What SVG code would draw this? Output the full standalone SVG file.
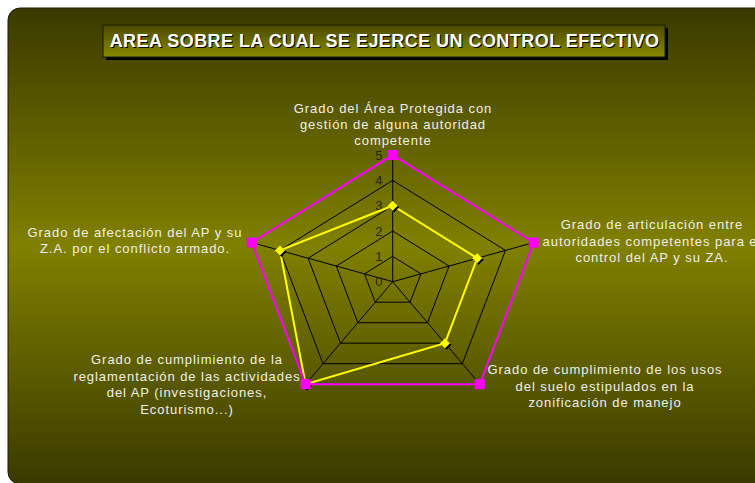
<svg xmlns="http://www.w3.org/2000/svg" xmlns:xlink="http://www.w3.org/1999/xlink" width="755" height="483" viewBox="0 0 755 483">
<style>
.lbl{font-family:"Liberation Sans",Arial,sans-serif;font-size:13px;letter-spacing:0.95px;fill:#f0f0e6;text-anchor:middle}
.tick{font-family:"Liberation Sans",Arial,sans-serif;font-size:13px;fill:#262600;text-anchor:end}
.grid{fill:none;stroke:#000;stroke-width:1}
.title{font-family:"Liberation Sans",Arial,sans-serif;font-size:18px;font-weight:bold;letter-spacing:0.45px;text-anchor:middle}
</style>
<defs>
<linearGradient id="bg" x1="0" y1="0" x2="0" y2="1">
<stop offset="0" stop-color="#3a3a00"/>
<stop offset="0.5" stop-color="#808000"/>
<stop offset="1" stop-color="#3a3a00"/>
</linearGradient>
<linearGradient id="tb" x1="0" y1="0" x2="0" y2="1">
<stop offset="0" stop-color="#4a4a00"/>
<stop offset="1" stop-color="#8a8a00"/>
</linearGradient>
<g id="dia"><polygon points="1.5,-3.5 6.5,1.5 1.5,6.5 -3.5,1.5" fill="#000"/><polygon points="0,-5 5,0 0,5 -5,0" fill="#ffff00"/></g>
<rect id="sq" x="-5" y="-5" width="10" height="10" fill="#ff00ff"/>
</defs>
<rect x="0" y="0" width="755" height="483" fill="#fff"/>
<rect x="8" y="8" width="770" height="476" rx="12" ry="12" fill="url(#bg)" stroke="#1a1a00" stroke-width="1"/>

<g id="title">
<rect x="106" y="28" width="562" height="32" fill="#000"/>
<rect x="103" y="25" width="562" height="32" fill="url(#tb)" stroke="#1a1a00" stroke-width="1"/>
<text class="title" x="385.5" y="48" fill="#000">AREA SOBRE LA CUAL SE EJERCE UN CONTROL EFECTIVO</text>
<text class="title" x="384.5" y="47" fill="#fff">AREA SOBRE LA CUAL SE EJERCE UN CONTROL EFECTIVO</text>
</g>

<g id="grid">
<polygon class="grid" points="392.7,256.37 420.89,273.87 410.12,302.19 375.28,302.19 364.51,273.87"/>
<polygon class="grid" points="392.7,231.03 449.08,266.04 427.55,322.69 357.85,322.69 336.32,266.04"/>
<polygon class="grid" points="392.7,205.7 477.27,258.22 444.97,343.18 340.43,343.18 308.13,258.22"/>
<polygon class="grid" points="392.7,180.37 505.46,250.39 462.39,363.68 323.01,363.68 279.94,250.39"/>
<polygon class="grid" points="392.7,155.03 533.66,242.56 479.81,384.18 305.59,384.18 251.74,242.56"/>
<line class="grid" x1="392.7" y1="281.7" x2="392.7" y2="155.03"/>
<line class="grid" x1="392.7" y1="281.7" x2="533.66" y2="242.56"/>
<line class="grid" x1="392.7" y1="281.7" x2="479.81" y2="384.18"/>
<line class="grid" x1="392.7" y1="281.7" x2="305.59" y2="384.18"/>
<line class="grid" x1="392.7" y1="281.7" x2="251.74" y2="242.56"/>
</g>

<g id="ticks">
<text class="tick" x="382.5" y="286.2">0</text>
<text class="tick" x="382.5" y="260.9">1</text>
<text class="tick" x="382.5" y="235.5">2</text>
<text class="tick" x="382.5" y="210.2">3</text>
<text class="tick" x="382.5" y="184.9">4</text>
<text class="tick" x="382.5" y="159.5">5</text>
</g>

<g id="series-actual">
<polygon points="392.7,205.7 477.27,258.22 444.97,343.18 305.59,384.18 279.94,250.39" fill="none" stroke="#ffff00" stroke-width="2"/>
<use xlink:href="#dia" x="392.7" y="205.7"/>
<use xlink:href="#dia" x="477.27" y="258.22"/>
<use xlink:href="#dia" x="444.97" y="343.18"/>
<use xlink:href="#dia" x="305.59" y="384.18"/>
<use xlink:href="#dia" x="279.94" y="250.39"/>
</g>

<g id="series-max">
<polygon points="392.7,155.03 533.66,242.56 479.81,384.18 305.59,384.18 251.74,242.56" fill="none" stroke="#ff00ff" stroke-width="2"/>
<use xlink:href="#sq" x="392.7" y="155.03"/>
<use xlink:href="#sq" x="533.66" y="242.56"/>
<use xlink:href="#sq" x="479.81" y="384.18"/>
<use xlink:href="#sq" x="305.59" y="384.18"/>
<use xlink:href="#sq" x="251.74" y="242.56"/>
</g>

<g id="label-top">
<text class="lbl" x="393" y="112.7">Grado del Área Protegida con</text>
<text class="lbl" x="393" y="128.7">gestión de alguna autoridad</text>
<text class="lbl" x="393" y="144.7">competente</text>
</g>
<g id="label-right">
<text class="lbl" x="652" y="229">Grado de articulación entre</text>
<text class="lbl" x="652" y="245.7">autoridades competentes para el</text>
<text class="lbl" x="652" y="262.3">control del AP y su ZA.</text>
</g>
<g id="label-bottom-right">
<text class="lbl" x="605" y="374">Grado de cumplimiento de los usos</text>
<text class="lbl" x="605" y="390.7">del suelo estipulados en la</text>
<text class="lbl" x="605" y="406.7">zonificación de manejo</text>
</g>
<g id="label-bottom-left">
<text class="lbl" x="187" y="364">Grado de cumplimiento de la</text>
<text class="lbl" x="187" y="380.7">reglamentación de las actividades</text>
<text class="lbl" x="187" y="397.3">del AP (investigaciones,</text>
<text class="lbl" x="187" y="414">Ecoturismo...)</text>
</g>
<g id="label-left">
<text class="lbl" x="135" y="236.7">Grado de afectación del AP y su</text>
<text class="lbl" x="135" y="252.7">Z.A. por el conflicto armado.</text>
</g>
</svg>
